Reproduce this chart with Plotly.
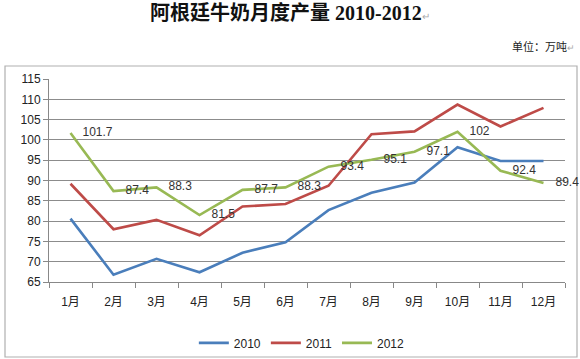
import plotly.graph_objects as go

months = ["1月", "2月", "3月", "4月", "5月", "6月", "7月", "8月", "9月", "10月", "11月", "12月"]
y2010 = [80.6, 66.8, 70.7, 67.4, 72.2, 74.8, 82.7, 87.0, 89.5, 98.2, 94.8, 94.8]
y2011 = [89.2, 78.0, 80.3, 76.5, 83.6, 84.2, 88.7, 101.4, 102.1, 108.7, 103.3, 107.9]
y2012 = [101.7, 87.4, 88.3, 81.5, 87.7, 88.3, 93.4, 95.1, 97.1, 102.0, 92.4, 89.4]
labels2012 = ["101.7", "87.4", "88.3", "81.5", "87.7", "88.3", "93.4", "95.1", "97.1", "102", "92.4", "89.4"]

FONT = "Liberation Sans, Noto Sans CJK SC, sans-serif"

fig = go.Figure()
fig.add_trace(go.Scatter(x=months, y=y2010, mode="lines", name="2010",
                         line=dict(color="#4A7EBB", width=2.6)))
fig.add_trace(go.Scatter(x=months, y=y2011, mode="lines", name="2011",
                         line=dict(color="#BE4B48", width=2.6)))
fig.add_trace(go.Scatter(x=months, y=y2012, mode="lines+text", name="2012",
                         line=dict(color="#98B954", width=2.6),
                         text=["\u2002\u2002" + t for t in labels2012], textposition="middle right",
                         cliponaxis=False,
                         textfont=dict(size=12, color="#333333", family=FONT)))

fig.update_layout(
    width=580, height=359,
    margin=dict(l=49, r=15, t=79, b=77, autoexpand=False),
    paper_bgcolor="white", plot_bgcolor="white",
    font=dict(family=FONT, size=12, color="#222222"),
    showlegend=True,
    legend=dict(orientation="h", x=0.49, xanchor="center", y=-0.30, yanchor="middle",
                font=dict(size=12, color="#222222"), itemwidth=30,
                bgcolor="rgba(0,0,0,0)"),
    xaxis=dict(type="category", range=[-0.5, 11.5], showgrid=False, automargin=False,
               showline=True, linecolor="#888888", linewidth=1,
               ticks="outside", tickson="boundaries", ticklen=5, tickcolor="#888888",
               ticklabelstandoff=9,
               tickfont=dict(size=12, color="#222222"), fixedrange=True),
    yaxis=dict(range=[65, 115], dtick=5, tick0=65, showgrid=True, gridcolor="#8c8c8c", gridwidth=1,
               showline=True, linecolor="#888888", linewidth=1, automargin=False,
               ticks="outside", ticklen=5, tickcolor="#888888",
               tickfont=dict(size=12, color="#222222"), zeroline=False, fixedrange=True),
    shapes=[dict(type="rect", xref="paper", yref="paper",
                 x0=(5 - 49) / 516, x1=(577 - 49) / 516,
                 y0=(282 - 357) / 203, y1=(282 - 66) / 203,
                 line=dict(color="#b0b0b0", width=1.2), fillcolor="rgba(0,0,0,0)", layer="below")],
    annotations=[
        dict(text="<b>阿根廷牛奶月度产量 2010-2012</b><span style='color:#aaaaaa;font-size:10px'>↵</span>",
             xref="paper", yref="paper", x=(290 - 49) / 516, y=(282 - 13) / 203,
             xanchor="center", yanchor="middle", showarrow=False,
             font=dict(family="Liberation Serif, Noto Sans CJK SC, serif", size=20, color="#111111")),
        dict(text="单位：万吨<span style='color:#aaaaaa;font-size:9px'>↵</span>",
             xref="paper", yref="paper", x=(577 - 49) / 516, y=(282 - 47) / 203,
             xanchor="right", yanchor="middle", showarrow=False,
             font=dict(family=FONT, size=11, color="#222222")),
    ],
)

fig.write_html("out.html")
